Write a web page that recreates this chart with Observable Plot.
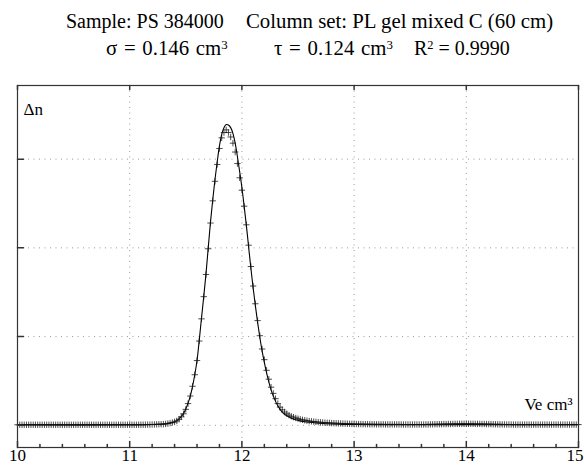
<!DOCTYPE html>
<html><head><meta charset="utf-8">
<script src="https://cdn.jsdelivr.net/npm/d3@7"></script>
<script src="https://cdn.jsdelivr.net/npm/@observablehq/plot@0.6"></script>
<style>
body{margin:0;background:#fff;font-family:"Liberation Serif","Times New Roman",serif;}
#wrap{position:relative;width:584px;height:465px;overflow:hidden;}
#title{position:absolute;left:0;top:0;width:584px;height:70px;font-size:20.8px;color:#000;}
#title span.t{position:absolute;white-space:pre;line-height:1;}
#title sup{font-size:0.62em;vertical-align:0.5em;line-height:0;}
#chart{position:absolute;left:0;top:70px;}
</style></head><body>
<div id="wrap">
<div id="title">
<span class="t" style="left:66px;top:11px;font-size:20px">Sample: PS 384000</span>
<span class="t" style="left:246px;top:11px">Column set: PL gel mixed C (60 cm)</span>
<span class="t" style="left:106px;top:38px;word-spacing:1.5px">σ = 0.146 cm<sup>3</sup></span>
<span class="t" style="left:274px;top:38px;word-spacing:1.5px">τ = 0.124 cm<sup>3</sup></span>
<span class="t" style="left:414px;top:38px;font-size:20px">R<sup>2</sup> = 0.9990</span>
</div>
<div id="chart"></div>
</div>
<script>
// Measured points (Ve, cm3) sampled every 0.02 from 10.00 to 15.00
const veStart = 10.0, veStep = 0.02;
const measuredDn = [
  0.006,0.006,0.006,0.006,0.006,0.006,0.006,0.006,0.006,0.006, // 10.00
  0.006,0.006,0.006,0.006,0.006,0.006,0.006,0.006,0.006,0.006, // 10.20
  0.006,0.006,0.006,0.006,0.006,0.006,0.006,0.006,0.006,0.006, // 10.40
  0.006,0.006,0.006,0.006,0.006,0.006,0.006,0.006,0.006,0.006, // 10.60
  0.006,0.006,0.006,0.006,0.006,0.006,0.006,0.006,0.006,0.006, // 10.80
  0.006,0.006,0.006,0.006,0.006,0.007,0.007,0.007,0.008,0.008, // 11.00
  0.009,0.010,0.011,0.012,0.012,0.013,0.016,0.020,0.025,0.031, // 11.20
  0.038,0.050,0.068,0.095,0.130,0.180,0.245,0.330,0.440,0.570, // 11.40
  0.73,0.95,1.20,1.45,1.70,1.99,2.28,2.53,2.75,2.94,           // 11.60
  3.12,3.24,3.30,3.33,3.30,3.25,3.18,3.08,2.95,2.79,           // 11.80
  2.65,2.47,2.26,2.03,1.79,1.57,1.37,1.18,1.01,0.86,           // 12.00
  0.74,0.62,0.52,0.43,0.36,0.30,0.245,0.205,0.175,0.150,       // 12.20
  0.130,0.115,0.102,0.092,0.083,0.075,0.068,0.062,0.057,0.052, // 12.40
  0.048,0.045,0.042,0.039,0.036,0.034,0.032,0.030,0.028,0.027, // 12.60
  0.025,0.024,0.023,0.022,0.021,0.020,0.019,0.018,0.017,0.016, // 12.80
  0.015,0.015,0.014,0.014,0.013,0.013,0.013,0.012,0.012,0.012, // 13.00
  0.011,0.011,0.011,0.011,0.010,0.010,0.010,0.010,0.010,0.010, // 13.20
  0.010,0.010,0.009,0.009,0.009,0.009,0.009,0.009,0.009,0.009, // 13.40
  0.009,0.009,0.010,0.010,0.011,0.011,0.012,0.012,0.013,0.013, // 13.60
  0.014,0.014,0.015,0.015,0.016,0.016,0.016,0.017,0.017,0.017, // 13.80
  0.017,0.017,0.017,0.017,0.016,0.016,0.016,0.015,0.015,0.014, // 14.00
  0.014,0.013,0.012,0.012,0.011,0.011,0.010,0.010,0.009,0.009, // 14.20
  0.009,0.008,0.008,0.008,0.008,0.008,0.008,0.008,0.008,0.008, // 14.40
  0.008,0.008,0.008,0.008,0.008,0.008,0.008,0.008,0.008,0.008, // 14.60
  0.008,0.008,0.008,0.008,0.008,0.008,0.008,0.008,0.008,0.008, // 14.80
  0.008                                                        // 15.00
];

// Fitted curve
const fitVe = [10.00,11.00,11.20,11.30,11.32,11.34,11.36,11.38,11.40,11.42,11.44,11.46,11.48,11.50,11.52,11.54,11.56,11.58,
  11.60,11.62,11.64,11.66,11.68,11.70,11.72,11.74,11.76,11.78,11.80,11.82,11.84,11.86,11.88,11.90,11.92,11.94,11.96,11.98,
  12.00,12.02,12.04,12.06,12.08,12.10,12.12,12.14,12.16,12.18,12.20,12.22,12.24,12.26,12.28,12.30,12.32,12.34,12.36,12.38,
  12.40,12.44,12.48,12.52,12.56,12.60,12.66,12.72,12.80,12.90,13.00,13.20,13.50,13.80,14.00,14.20,14.50,15.00];
const fitDn = [0.006,0.006,0.009,0.014,0.018,0.022,0.028,0.034,0.041,0.053,0.073,0.100,0.135,0.185,0.25,0.33,0.44,0.57,
  0.73,0.96,1.21,1.45,1.71,2.00,2.29,2.54,2.77,2.97,3.15,3.28,3.355,3.39,3.385,3.355,3.29,3.18,3.03,2.86,
  2.68,2.47,2.25,2.01,1.77,1.55,1.35,1.16,0.99,0.84,0.71,0.59,0.49,0.40,0.33,0.27,0.22,0.18,0.15,0.125,
  0.107,0.080,0.062,0.050,0.041,0.034,0.026,0.020,0.015,0.011,0.009,0.007,0.006,0.007,0.008,0.007,0.006,0.006];

const xTicks = [10, 11, 12, 13, 14, 15];
const xMinor = [10.2,10.4,10.6,10.8,11.2,11.4,11.6,11.8,12.2,12.4,12.6,12.8,13.2,13.4,13.6,13.8,14.2,14.4,14.6,14.8];
const yTicks = [0, 1, 2, 3];
const yLabel = "Δn";
const xLabel = "Ve cm³";

const measured = measuredDn.map((d, i) => ({ve: veStart + i * veStep, dn: d}));
const fit = fitVe.map((v, i) => ({ve: v, dn: fitDn[i]}));

const up = {draw(ctx, l) { ctx.moveTo(0, 0); ctx.lineTo(0, -l); }};
const down = {draw(ctx, l) { ctx.moveTo(0, 0); ctx.lineTo(0, l); }};
const right = {draw(ctx, l) { ctx.moveTo(0, 0); ctx.lineTo(l, 0); }};
const serif = '"Liberation Serif", "Times New Roman", serif';

const chart = Plot.plot({
  width: 584, height: 395,
  marginLeft: 17, marginRight: 6, marginTop: 15, marginBottom: 18,
  style: {fontFamily: serif, fontSize: "17px", color: "#000", background: "#fff", overflow: "visible"},
  x: {domain: [10, 15]},
  y: {domain: [-0.25, 3.83]},
  marks: [
    Plot.gridX([11, 12, 13, 14], {stroke: "#999", strokeOpacity: 1, strokeDasharray: "1,4.5"}),
    Plot.gridY([1, 2, 3, 0], {stroke: "#999", strokeOpacity: 1, strokeDasharray: "1,4.5"}),
    Plot.line(fit, {x: "ve", y: "dn", curve: "catmull-rom", stroke: "#000", strokeWidth: 1.1}),
    Plot.dot(measured, {x: "ve", y: "dn", symbol: "plus", r: 2.2, stroke: "#111", strokeWidth: 0.75}),
    Plot.vector(xTicks, {x: d => d, frameAnchor: "bottom", anchor: "start", length: 6, shape: up, stroke: "#333"}),
    Plot.vector(xMinor, {x: d => d, frameAnchor: "bottom", anchor: "start", length: 3, shape: up, stroke: "#333"}),
    Plot.vector(xTicks, {x: d => d, frameAnchor: "top", anchor: "start", length: 4, shape: down, stroke: "#333"}),
    Plot.vector(yTicks, {y: d => d, frameAnchor: "left", anchor: "start", length: 6, shape: right, stroke: "#333"}),
    Plot.frame({stroke: "#333", strokeWidth: 1.2}),
    Plot.axisX(xTicks.slice(0, 5), {tickSize: 0, tickPadding: 1, fontSize: 17, label: null}),
    Plot.axisX(xTicks.slice(5), {tickSize: 0, tickPadding: 1, fontSize: 17, label: null, textAnchor: "end", dx: 5}),
    Plot.axisY({ticks: [], label: null, tickSize: 0}),
    Plot.text([yLabel], {frameAnchor: "top-left", dx: 6, dy: 17, textAnchor: "start", fontSize: 17, fill: "#000"}),
    Plot.text([xLabel], {frameAnchor: "bottom-right", dx: -6, dy: -38, textAnchor: "end", fontSize: 17, fill: "#000"})
  ]
});
document.getElementById("chart").appendChild(chart);
</script>
</body></html>
